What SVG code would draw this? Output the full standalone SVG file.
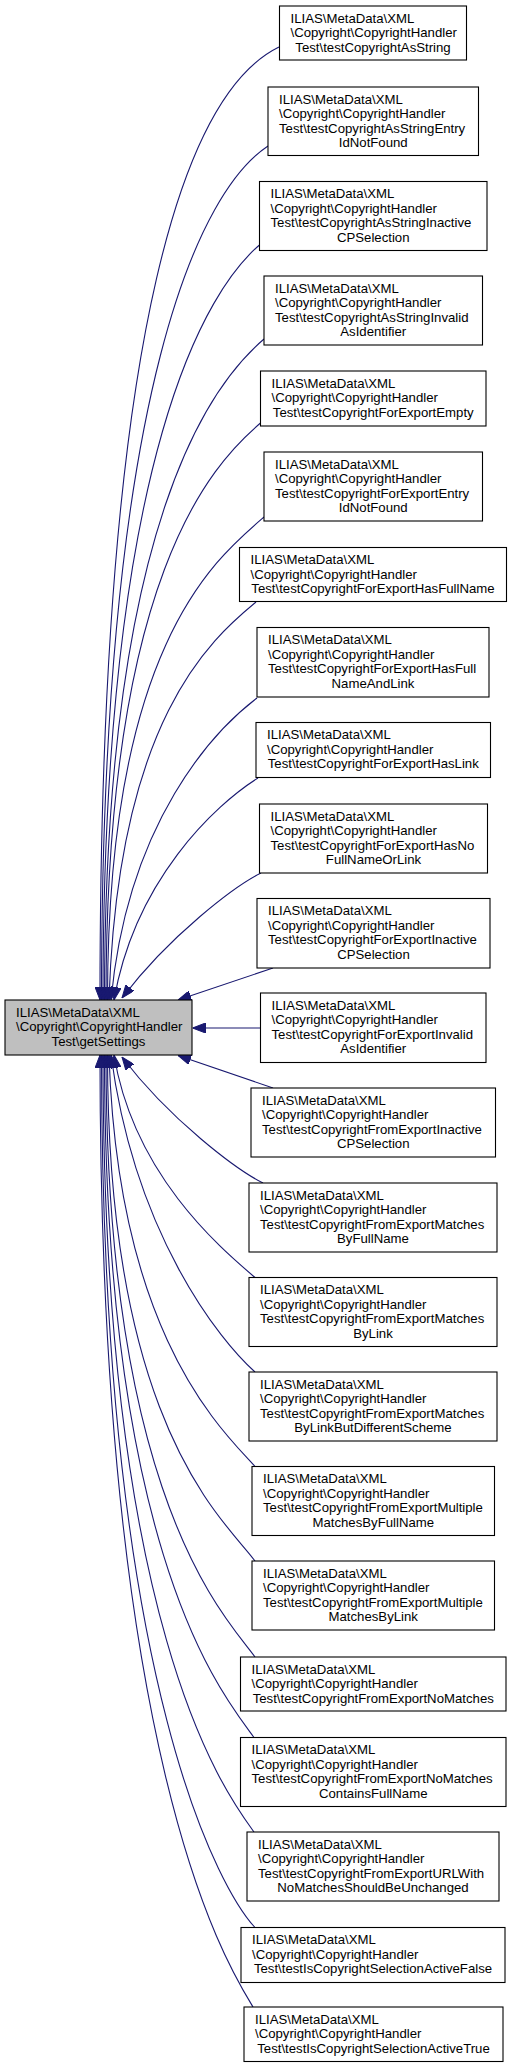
<svg xmlns="http://www.w3.org/2000/svg" width="512" height="2068" viewBox="0 0 512 2068">
<style>
.node rect{fill:#ffffff;stroke:#000000;stroke-width:1.1}
.main rect{fill:#bfbfbf}
text{font-family:"Liberation Sans",Arial,Helvetica,sans-serif;font-size:13.2px;fill:#000000}
.c{text-anchor:middle}
.edges path{fill:none;stroke:#191970;stroke-width:1.1;marker-end:url(#arr)}
</style>
<defs>
<marker id="arr" markerUnits="userSpaceOnUse" viewBox="0 0 13 10" refX="13" refY="5" markerWidth="13" markerHeight="10" orient="auto">
<path d="M0,0 L13,5 L0,10 z" fill="#191970" stroke="#191970" stroke-width="1"/>
</marker>
</defs>
<rect width="512" height="2068" fill="#ffffff"/>
<g class="edges">
<path d="M279,47 C191,90 100,304 100,1000"/>
<path d="M268,146 C203,189 101.5,377 101.5,1000"/>
<path d="M259.5,245 C209,288 103,449 103,1000"/>
<path d="M264,339 C214,382 104.5,517 104.5,1000"/>
<path d="M260.5,423 C210,466 106,579 106,1000"/>
<path d="M264,517 C214,560 107.5,647 107.5,1000"/>
<path d="M256,602 C210,640 118,720 109,1000"/>
<path d="M257,698 C215,730 128,820 111,1000"/>
<path d="M258,778 C215,805 135,880 114,1000"/>
<path d="M261,873 C235,886 170,935 122,998"/>
<path d="M273,968 L178,1000"/>
<path d="M260.5,1028 L192.5,1028"/>
<path d="M273,1088 L178,1055.5"/>
<path d="M263,1183 C237,1170 170,1120 122,1057"/>
<path d="M255,1277.5 C220,1247.5 134,1175 114,1055"/>
<path d="M255,1372 C220,1341 135,1235 111,1055"/>
<path d="M255,1466.5 C222,1430 118,1335 109,1055"/>
<path d="M255,1561 C226,1521 107.5,1429 107.5,1055"/>
<path d="M255,1657 C226,1617 106,1501 106,1055"/>
<path d="M254,1737.5 C225,1697 104.5,1560 104.5,1055"/>
<path d="M254,1832 C225,1792 103,1630 103,1055"/>
<path d="M255,1927.5 C225,1895 101.5,1700 101.5,1055"/>
<path d="M253,2007 C225,1961 100,1760 100,1055"/>
</g>
<g id="main" class="node main">
<rect x="5" y="1000" width="187" height="55"/>
<text x="16" y="1016.5">ILIAS\MetaData\XML</text>
<text x="16" y="1031">\Copyright\CopyrightHandler</text>
<text class="c" x="98.5" y="1045.5">Test\getSettings</text>
</g>
<g id="n1" class="node">
<rect x="279.5" y="6" width="187" height="54"/>
<text x="290.5" y="22.5">ILIAS\MetaData\XML</text>
<text x="290.5" y="37">\Copyright\CopyrightHandler</text>
<text class="c" x="373" y="51.5">Test\testCopyrightAsString</text>
</g>
<g id="n2" class="node">
<rect x="268" y="87" width="210.5" height="68.5"/>
<text x="279" y="103.5">ILIAS\MetaData\XML</text>
<text x="279" y="118">\Copyright\CopyrightHandler</text>
<text x="279" y="132.5">Test\testCopyrightAsStringEntry</text>
<text class="c" x="373.25" y="147">IdNotFound</text>
</g>
<g id="n3" class="node">
<rect x="259.5" y="181.5" width="227.5" height="69"/>
<text x="270.5" y="198">ILIAS\MetaData\XML</text>
<text x="270.5" y="212.5">\Copyright\CopyrightHandler</text>
<text x="270.5" y="227">Test\testCopyrightAsStringInactive</text>
<text class="c" x="373.25" y="241.5">CPSelection</text>
</g>
<g id="n4" class="node">
<rect x="264" y="276" width="218.5" height="69"/>
<text x="275" y="292.5">ILIAS\MetaData\XML</text>
<text x="275" y="307">\Copyright\CopyrightHandler</text>
<text x="275" y="321.5">Test\testCopyrightAsStringInvalid</text>
<text class="c" x="373.25" y="336">AsIdentifier</text>
</g>
<g id="n5" class="node">
<rect x="260.5" y="371" width="225.5" height="55"/>
<text x="271.5" y="387.5">ILIAS\MetaData\XML</text>
<text x="271.5" y="402">\Copyright\CopyrightHandler</text>
<text class="c" x="373.25" y="416.5">Test\testCopyrightForExportEmpty</text>
</g>
<g id="n6" class="node">
<rect x="264" y="452" width="218.5" height="69"/>
<text x="275" y="468.5">ILIAS\MetaData\XML</text>
<text x="275" y="483">\Copyright\CopyrightHandler</text>
<text x="275" y="497.5">Test\testCopyrightForExportEntry</text>
<text class="c" x="373.25" y="512">IdNotFound</text>
</g>
<g id="n7" class="node">
<rect x="239.5" y="547.5" width="267" height="54"/>
<text x="250.5" y="564">ILIAS\MetaData\XML</text>
<text x="250.5" y="578.5">\Copyright\CopyrightHandler</text>
<text class="c" x="373" y="593">Test\testCopyrightForExportHasFullName</text>
</g>
<g id="n8" class="node">
<rect x="257" y="627.5" width="232" height="69.5"/>
<text x="268" y="644">ILIAS\MetaData\XML</text>
<text x="268" y="658.5">\Copyright\CopyrightHandler</text>
<text x="268" y="673">Test\testCopyrightForExportHasFull</text>
<text class="c" x="373" y="687.5">NameAndLink</text>
</g>
<g id="n9" class="node">
<rect x="256" y="722.5" width="234.5" height="55"/>
<text x="267" y="739">ILIAS\MetaData\XML</text>
<text x="267" y="753.5">\Copyright\CopyrightHandler</text>
<text class="c" x="373.25" y="768">Test\testCopyrightForExportHasLink</text>
</g>
<g id="n10" class="node">
<rect x="259.5" y="804" width="228" height="69"/>
<text x="270.5" y="820.5">ILIAS\MetaData\XML</text>
<text x="270.5" y="835">\Copyright\CopyrightHandler</text>
<text x="270.5" y="849.5">Test\testCopyrightForExportHasNo</text>
<text class="c" x="373.5" y="864">FullNameOrLink</text>
</g>
<g id="n11" class="node">
<rect x="257" y="898.5" width="233" height="69.5"/>
<text x="268" y="915">ILIAS\MetaData\XML</text>
<text x="268" y="929.5">\Copyright\CopyrightHandler</text>
<text x="268" y="944">Test\testCopyrightForExportInactive</text>
<text class="c" x="373.5" y="958.5">CPSelection</text>
</g>
<g id="n12" class="node">
<rect x="260.5" y="993" width="225.5" height="69.5"/>
<text x="271.5" y="1009.5">ILIAS\MetaData\XML</text>
<text x="271.5" y="1024">\Copyright\CopyrightHandler</text>
<text x="271.5" y="1038.5">Test\testCopyrightForExportInvalid</text>
<text class="c" x="373.25" y="1053">AsIdentifier</text>
</g>
<g id="n13" class="node">
<rect x="251" y="1088" width="244.5" height="69"/>
<text x="262" y="1104.5">ILIAS\MetaData\XML</text>
<text x="262" y="1119">\Copyright\CopyrightHandler</text>
<text x="262" y="1133.5">Test\testCopyrightFromExportInactive</text>
<text class="c" x="373.25" y="1148">CPSelection</text>
</g>
<g id="n14" class="node">
<rect x="249" y="1183" width="248" height="69"/>
<text x="260" y="1199.5">ILIAS\MetaData\XML</text>
<text x="260" y="1214">\Copyright\CopyrightHandler</text>
<text x="260" y="1228.5">Test\testCopyrightFromExportMatches</text>
<text class="c" x="373" y="1243">ByFullName</text>
</g>
<g id="n15" class="node">
<rect x="249" y="1277.5" width="248" height="69"/>
<text x="260" y="1294">ILIAS\MetaData\XML</text>
<text x="260" y="1308.5">\Copyright\CopyrightHandler</text>
<text x="260" y="1323">Test\testCopyrightFromExportMatches</text>
<text class="c" x="373" y="1337.5">ByLink</text>
</g>
<g id="n16" class="node">
<rect x="249" y="1372" width="248" height="69"/>
<text x="260" y="1388.5">ILIAS\MetaData\XML</text>
<text x="260" y="1403">\Copyright\CopyrightHandler</text>
<text x="260" y="1417.5">Test\testCopyrightFromExportMatches</text>
<text class="c" x="373" y="1432">ByLinkButDifferentScheme</text>
</g>
<g id="n17" class="node">
<rect x="252" y="1466.5" width="242.5" height="69"/>
<text x="263" y="1483">ILIAS\MetaData\XML</text>
<text x="263" y="1497.5">\Copyright\CopyrightHandler</text>
<text x="263" y="1512">Test\testCopyrightFromExportMultiple</text>
<text class="c" x="373.25" y="1526.5">MatchesByFullName</text>
</g>
<g id="n18" class="node">
<rect x="252" y="1561" width="242.5" height="69"/>
<text x="263" y="1577.5">ILIAS\MetaData\XML</text>
<text x="263" y="1592">\Copyright\CopyrightHandler</text>
<text x="263" y="1606.5">Test\testCopyrightFromExportMultiple</text>
<text class="c" x="373.25" y="1621">MatchesByLink</text>
</g>
<g id="n19" class="node">
<rect x="240.5" y="1657" width="265.5" height="54"/>
<text x="251.5" y="1673.5">ILIAS\MetaData\XML</text>
<text x="251.5" y="1688">\Copyright\CopyrightHandler</text>
<text class="c" x="373.25" y="1702.5">Test\testCopyrightFromExportNoMatches</text>
</g>
<g id="n20" class="node">
<rect x="240.5" y="1737.5" width="265.5" height="69"/>
<text x="251.5" y="1754">ILIAS\MetaData\XML</text>
<text x="251.5" y="1768.5">\Copyright\CopyrightHandler</text>
<text x="251.5" y="1783">Test\testCopyrightFromExportNoMatches</text>
<text class="c" x="373.25" y="1797.5">ContainsFullName</text>
</g>
<g id="n21" class="node">
<rect x="247" y="1832" width="252" height="69"/>
<text x="258" y="1848.5">ILIAS\MetaData\XML</text>
<text x="258" y="1863">\Copyright\CopyrightHandler</text>
<text x="258" y="1877.5">Test\testCopyrightFromExportURLWith</text>
<text class="c" x="373" y="1892">NoMatchesShouldBeUnchanged</text>
</g>
<g id="n22" class="node">
<rect x="241" y="1927.5" width="264" height="55"/>
<text x="252" y="1944">ILIAS\MetaData\XML</text>
<text x="252" y="1958.5">\Copyright\CopyrightHandler</text>
<text class="c" x="373" y="1973">Test\testIsCopyrightSelectionActiveFalse</text>
</g>
<g id="n23" class="node">
<rect x="244" y="2007" width="259" height="54.5"/>
<text x="255" y="2023.5">ILIAS\MetaData\XML</text>
<text x="255" y="2038">\Copyright\CopyrightHandler</text>
<text class="c" x="373.5" y="2052.5">Test\testIsCopyrightSelectionActiveTrue</text>
</g>
</svg>
